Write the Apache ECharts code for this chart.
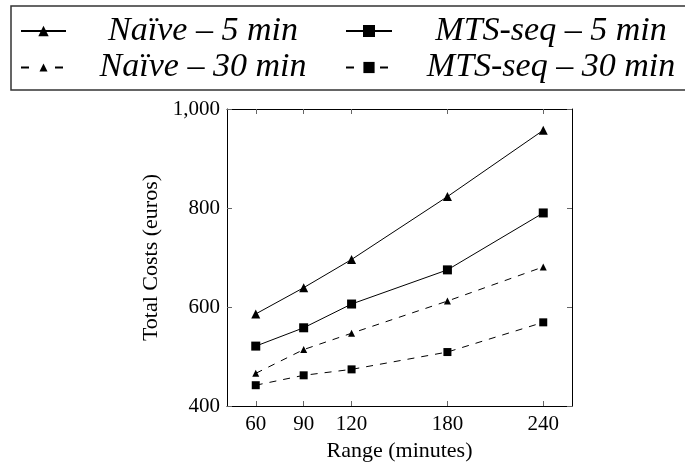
<!DOCTYPE html>
<html>
<head>
<meta charset="utf-8">
<script src="https://cdn.jsdelivr.net/npm/echarts@6/dist/echarts.min.js"></script>
<style>
html,body{margin:0;padding:0;background:#fff;}
#chart{width:685px;height:464px;}
</style>
</head>
<body>
<div id="chart"></div>
<script>
const ranges = [60, 90, 120, 180, 240];
const naive5 = [586, 639, 696, 823, 957];
const mts5 = [521, 558, 606, 675, 790];
const naive30 = [466, 514, 547, 612, 681];
const mts30 = [442, 462, 474, 509, 569];
const xTicks = [60, 90, 120, 180, 240];
const yTicks = [400, 600, 800, 1000];
const seriesNames = ['Naïve – 5 min', 'MTS-seq – 5 min', 'Naïve – 30 min', 'MTS-seq – 30 min'];

const serif = '"Liberation Serif", "DejaVu Serif", serif';
const toPairs = (ys) => ranges.map((x, i) => [x, ys[i]]);

function legendFor(name, left, top, itemWidth, itemHeight, textW, dashed) {
  const l = {
    data: [name],
    left: left, top: top, padding: 0,
    itemWidth: itemWidth, itemHeight: itemHeight,
    selectedMode: false,
    formatter: '{t|{name}}',
    textStyle: {
      color: '#000', fontFamily: serif, fontStyle: 'italic', fontSize: 34,
      rich: { t: { width: textW, align: 'center', fontFamily: serif, fontStyle: 'italic', fontSize: 34, lineHeight: 40, color: '#000' } }
    }
  };
  if (dashed) l.lineStyle = { type: [8, 26] };
  return l;
}

function mkSeries(name, ys, symbol, size, dashed) {
  return {
    name: name, type: 'line', data: toPairs(ys),
    symbol: symbol, symbolSize: size,
    itemStyle: { color: '#000' },
    lineStyle: { color: '#000', width: 1, type: dashed ? [7, 7] : 'solid' },
    animation: false
  };
}

const chart = echarts.init(document.getElementById('chart'));
const tickStyle = { show: true, inside: true, length: 5, lineStyle: { color: '#666', width: 1 } };
chart.setOption({
  backgroundColor: '#fff',
  animation: false,
  grid: { left: 227, top: 109, width: 345, height: 297, show: false, outerBoundsMode: 'none', containLabel: false },
  graphic: [{
    type: 'rect', z: -1,
    shape: { x: 11, y: 6, width: 700, height: 84 },
    style: { fill: 'none', stroke: '#333', lineWidth: 1.5 }
  }],
  legend: [
    legendFor(seriesNames[0], 20, 14, 45, 13, 264, false),
    legendFor(seriesNames[1], 345, 14, 46, 15, 308, false),
    legendFor(seriesNames[2], 20, 50.5, 45, 10, 264, true),
    legendFor(seriesNames[3], 345, 50.5, 46, 14, 308, true)
  ],
  xAxis: [{
    type: 'value', min: 42, max: 258, position: 'bottom',
    name: 'Range (minutes)', nameLocation: 'middle', nameGap: 32,
    nameTextStyle: { fontFamily: serif, fontSize: 22, color: '#000' },
    axisLine: { show: true, onZero: false, lineStyle: { color: '#000', width: 1 } },
    axisTick: Object.assign({ customValues: xTicks }, tickStyle),
    axisLabel: { customValues: xTicks, margin: 8, fontFamily: serif, fontSize: 21, color: '#000' },
    splitLine: { show: false }
  }, {
    type: 'value', min: 42, max: 258, position: 'top',
    axisLine: { show: true, onZero: false, lineStyle: { color: '#000', width: 1 } },
    axisTick: Object.assign({ customValues: xTicks }, tickStyle),
    axisLabel: { show: false },
    splitLine: { show: false }
  }],
  yAxis: [{
    type: 'value', min: 400, max: 1000, interval: 200, position: 'left',
    name: 'Total Costs (euros)', nameLocation: 'middle', nameGap: 64,
    nameTextStyle: { fontFamily: serif, fontSize: 22, color: '#000' },
    axisLine: { show: true, onZero: false, lineStyle: { color: '#000', width: 1 } },
    axisTick: tickStyle,
    axisLabel: { margin: 7, fontFamily: serif, fontSize: 21, color: '#000',
      formatter: (v) => v.toLocaleString('en-US') },
    splitLine: { show: false }
  }, {
    type: 'value', min: 400, max: 1000, interval: 200, position: 'right',
    axisLine: { show: true, onZero: false, lineStyle: { color: '#000', width: 1 } },
    axisTick: tickStyle,
    axisLabel: { show: false },
    splitLine: { show: false }
  }],
  series: [
    mkSeries(seriesNames[0], naive5, 'triangle', 9, false),
    mkSeries(seriesNames[1], mts5, 'rect', 9, false),
    mkSeries(seriesNames[2], naive30, 'triangle', 7, true),
    mkSeries(seriesNames[3], mts30, 'rect', 8, true)
  ]
});
</script>
</body>
</html>
